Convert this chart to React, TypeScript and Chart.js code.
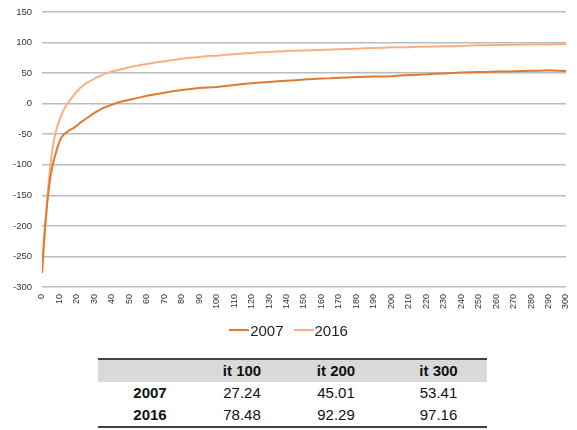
import React, { useEffect, useRef } from "react";
import { Chart, registerables } from "chart.js";

Chart.register(...registerables);

const iterations = [
  0, 1, 2, 3, 4, 5, 6, 7, 8, 9, 10, 11, 12, 13, 14, 15, 16, 18, 20, 22, 25,
  30, 35, 40, 45, 50, 55, 60, 65, 70, 75, 80, 85, 90, 95, 100, 105, 110, 115,
  120, 125, 130, 135, 140, 145, 150, 155, 160, 165, 170, 175, 180, 185, 190,
  195, 200, 205, 210, 215, 220, 225, 230, 235, 240, 245, 250, 255, 260, 265,
  270, 275, 280, 285, 290, 295, 300,
];

const series2007 = [
  -277, -228, -192, -162, -137, -117, -102, -90, -80, -70, -62, -56, -52, -49,
  -47, -45, -43, -40, -36, -31, -25,
  -15, -7, -1.5, 3, 6.5, 9.5, 13, 15.5, 18, 20.5, 22.5, 24, 25.5, 26.5, 27.2,
  29, 30.5, 32, 33.5, 34.5, 35.5, 36.5, 37.5, 38.5, 39.5, 40.5, 41, 41.5, 42.5,
  43, 43.5, 44, 44.5, 44.5, 45, 46, 47, 47.5, 48, 49, 49.5, 50, 51, 51.5, 52,
  52, 52.5, 52.5, 53, 53.5, 54, 54, 54.5, 54, 53.4,
];

const series2016 = [
  -277, -238, -198, -158, -122, -96, -74, -57, -45, -35, -27, -19, -13, -7, -2,
  2, 6, 13, 20, 26, 33,
  41, 48, 52.5, 56, 59.5, 62.5, 65, 67.5, 69.5, 71.5, 73.5, 75, 76.5, 78, 78.5,
  80, 81, 82, 83, 84, 84.5, 85.5, 86, 86.5, 87, 87.5, 88, 88.5, 89, 89.5, 90,
  90.5, 91, 91.5, 92.3, 92.5, 92.5, 93, 93, 93.5, 94, 94, 94.5, 95, 95.5, 95.5,
  96, 96, 96.5, 96.5, 97, 97, 97, 97.5, 97.2,
];

const seriesNames = ["2007", "2016"];
const seriesColors = ["#E07A2F", "#F9AE84"];

const tableHeaders = ["", "it 100", "it 200", "it 300"];
const tableRows = [
  ["2007", "27.24", "45.01", "53.41"],
  ["2016", "78.48", "92.29", "97.16"],
];

const FONT = "'Liberation Sans', Arial, sans-serif";

export default function App() {
  const canvasRef = useRef<HTMLCanvasElement | null>(null);

  useEffect(() => {
    if (!canvasRef.current) return;
    const allSeries = [series2007, series2016];
    const chart = new Chart(canvasRef.current, {
      type: "line",
      data: {
        datasets: allSeries.map((s, k) => ({
          label: seriesNames[k],
          data: iterations.map((x, i) => ({ x, y: s[i] })),
          borderColor: seriesColors[k],
          backgroundColor: seriesColors[k],
          borderWidth: 2,
          pointRadius: 0,
          tension: 0,
          fill: false,
        })),
      },
      options: {
        animation: false,
        responsive: false,
        layout: { padding: { left: 0, right: 11, top: 12, bottom: 0 } },
        plugins: { legend: { display: false }, tooltip: { enabled: false } },
        scales: {
          x: {
            type: "linear",
            min: 0,
            max: 300,
            afterFit: (scale: any) => {
              scale.height = 35;
              scale.paddingLeft = 0;
              scale.paddingRight = 0;
            },
            grid: { display: false, drawTicks: false },
            border: { display: false },
            ticks: {
              stepSize: 10,
              autoSkip: false,
              minRotation: 90,
              maxRotation: 90,
              padding: 7,
              color: "#333",
              font: { family: FONT, size: 9 },
            },
          },
          y: {
            min: -300,
            max: 150,
            afterFit: (scale: any) => {
              scale.width = 42;
              scale.paddingTop = 0;
              scale.paddingBottom = 0;
            },
            grid: { color: "#bcbcbc", lineWidth: 1.5, drawTicks: false },
            border: { display: false },
            ticks: {
              stepSize: 50,
              padding: 10,
              color: "#333",
              font: { family: FONT, size: 9.5 },
            },
          },
        },
      },
    });
    return () => chart.destroy();
  }, []);

  const colLefts = [98, 202, 282, 390];
  const colWidths = [104, 80, 108, 97];

  return (
    <div style={{ position: "absolute", left: 0, top: 0, width: 577, height: 430, background: "#fff", fontFamily: FONT }}>
      <canvas ref={canvasRef} width={577} height={322} style={{ position: "absolute", left: 0, top: 0 }} />
      <div style={{ position: "absolute", left: 0, top: 320, width: 577, height: 20, display: "flex", justifyContent: "center", alignItems: "center", fontSize: 15, color: "#222" }}>
        {seriesNames.map((n, k) => (
          <div key={n} style={{ display: "flex", alignItems: "center", marginLeft: k ? 10 : 0 }}>
            <span style={{ display: "inline-block", width: 20, height: 2.5, background: seriesColors[k], marginRight: 1 }} />
            <span>{n}</span>
          </div>
        ))}
      </div>
      <div style={{ position: "absolute", left: 98, top: 358, width: 389, height: 24, background: "#d9d9d9", borderTop: "2px solid #404040", boxSizing: "border-box" }} />
      {tableHeaders.map((h, c) => (
        <div key={"h" + c} style={{ position: "absolute", left: colLefts[c], top: 360, width: colWidths[c], height: 22, lineHeight: "22px", textAlign: "center", fontWeight: "bold", fontSize: 15, color: "#111" }}>{h}</div>
      ))}
      {tableRows.map((row, r) =>
        row.map((cell, c) => (
          <div key={r + "-" + c} style={{ position: "absolute", left: colLefts[c], top: 382 + r * 22, width: colWidths[c], height: 22, lineHeight: "22px", textAlign: "center", fontWeight: c === 0 ? "bold" : "normal", fontSize: 15, color: "#111" }}>{cell}</div>
        ))
      )}
      <div style={{ position: "absolute", left: 98, top: 426, width: 389, height: 2, background: "#404040" }} />
    </div>
  );
}
